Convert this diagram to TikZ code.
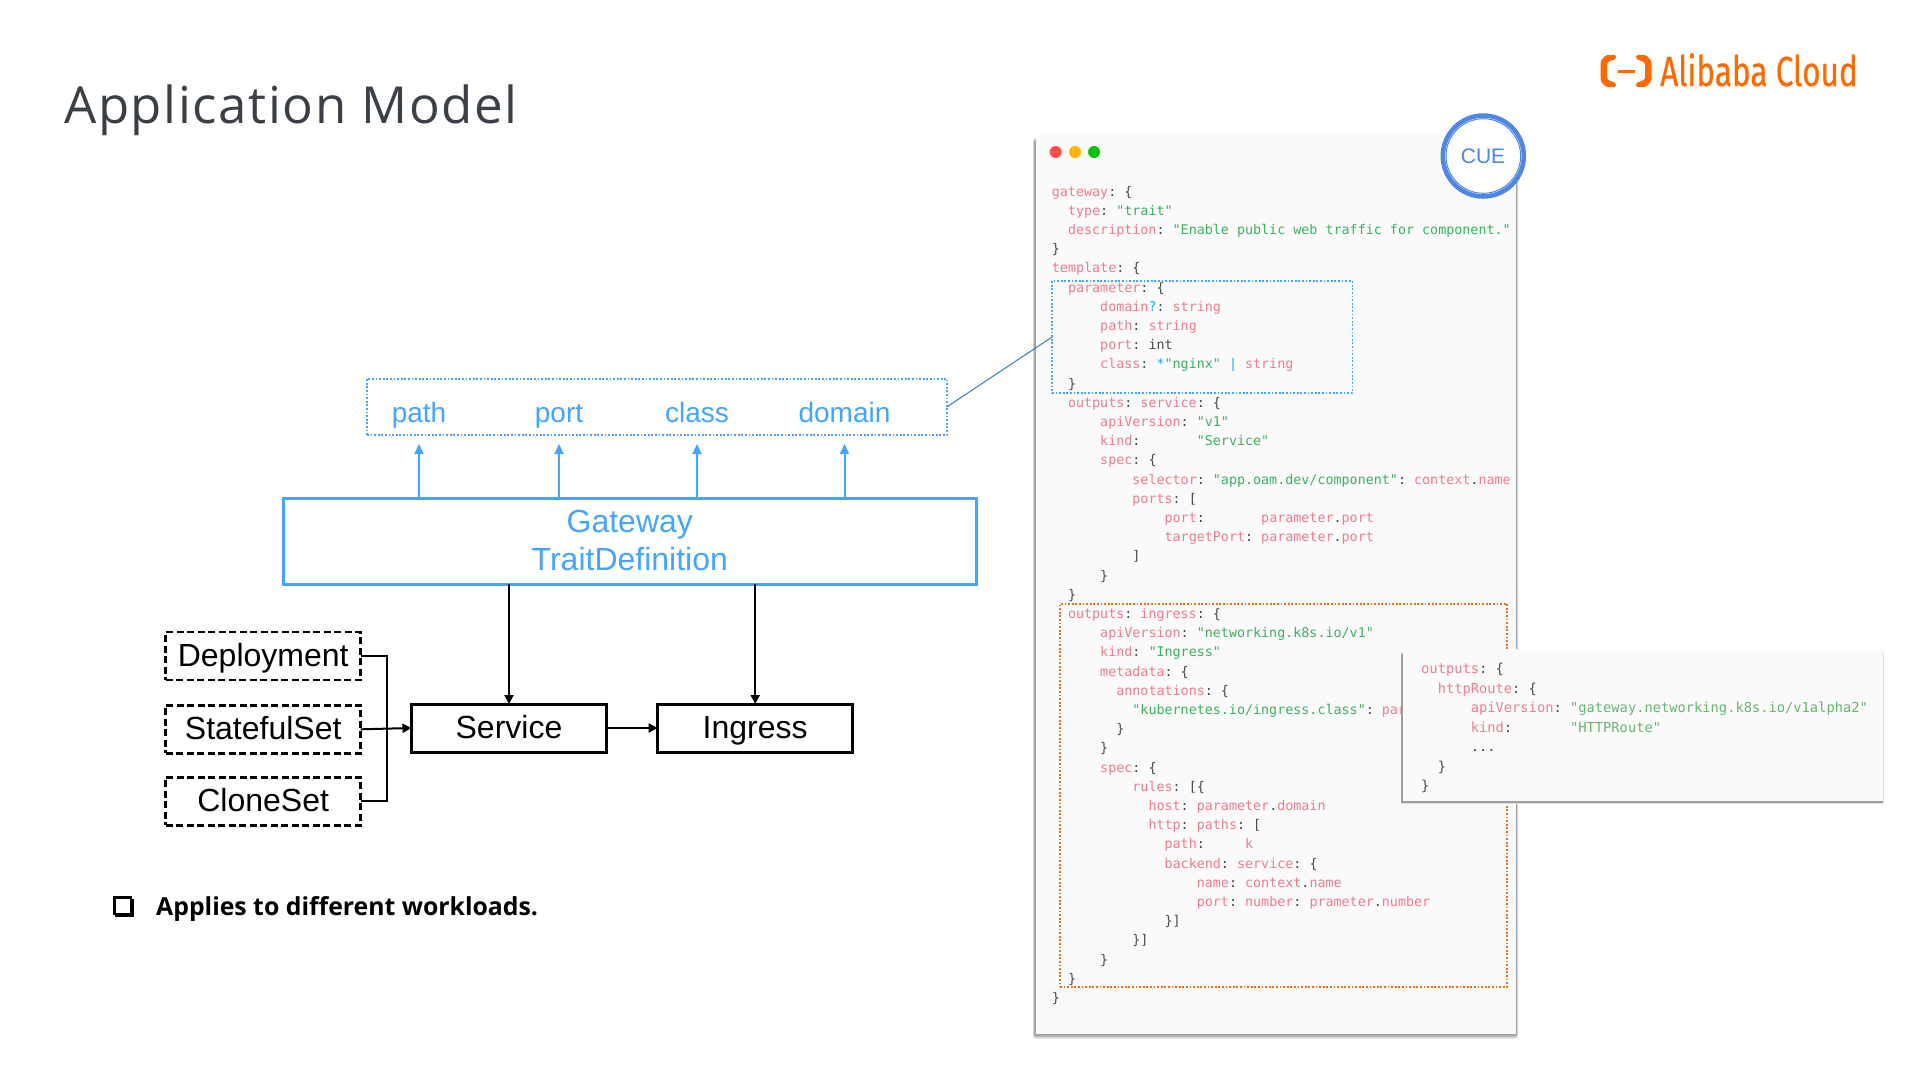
\documentclass[tikz,border=0pt]{standalone}
\usepackage{fontspec}
\usetikzlibrary{arrows.meta}
\setmainfont{Liberation Sans}
\newfontfamily\titlefont[LetterSpace=3.2]{Open Sans}
\newfontfamily\bulletfont{Open Sans}
\newfontfamily\codefont{DejaVu Sans Mono}
\newfontfamily\logofont[FakeStretch=0.75,FakeBold=0.4]{Fira Sans}
\definecolor{tblue}{HTML}{45A5FA}
\definecolor{kwc}{HTML}{EE7C8C}
\definecolor{stc}{HTML}{3DB05F}
\definecolor{plc}{HTML}{444A50}
\definecolor{opc}{HTML}{2BA6DC}
\definecolor{kwp}{HTML}{E9808E}
\definecolor{stp}{HTML}{68B470}
\definecolor{cuec}{HTML}{4F86E2}
\definecolor{orc}{HTML}{E8711A}
\definecolor{logoc}{HTML}{FF6A00}
\definecolor{panelc}{HTML}{FAFAFA}
\definecolor{dotr}{HTML}{FF4B4B}
\definecolor{doty}{HTML}{FFB400}
\definecolor{dotg}{HTML}{0AC20A}
\definecolor{linkc}{HTML}{2F7FC8}
\definecolor{titlec}{HTML}{3A4046}
\newcommand{\kw}[1]{\textcolor{kwc}{#1}}
\newcommand{\st}[1]{\textcolor{stc}{#1}}
\newcommand{\op}[1]{\textcolor{opc}{#1}}
\newcommand{\codeln}[3]{\node[codeline] (ln#1) at ({1051.7+#2*8.05},{196+#1*19.2}) {#3};}
\newcommand{\popln}[3]{\node[popline] (pl#1) at ({1421+#2*8.27},{673.5+#1*19.5}) {#3};}
\frenchspacing
\tikzset{
  wbox/.style={draw=black,line width=3pt,inner sep=0pt,outer sep=0pt,font=\fontsize{32}{38}\selectfont,text=black,text height=25pt,text depth=4pt,minimum width=195pt,minimum height=48pt},
  wdash/.style={wbox,line width=2.8pt,dash pattern=on 7pt off 3.5pt},
  lbl/.style={anchor=base,inner sep=0pt,font=\fontsize{28}{34}\selectfont,text=tblue},
  conn/.style={line width=2pt,draw=black},
  bluearrow/.style={line width=2pt,draw=tblue,-{Triangle[length=10pt,width=9pt]}},
  blackarrow/.style={conn,-{Triangle[length=9pt,width=9pt]}},
  dotbox/.style={inner sep=0pt,outer sep=0pt,line width=1.7pt,dash pattern=on 1.8pt off 1.8pt},
  codeline/.style={anchor=base west,inner sep=0pt,font=\codefont\fontsize{13.37}{16}\selectfont,text=plc},
  popline/.style={anchor=base west,inner sep=0pt,font=\codefont\fontsize{13.74}{16}\selectfont,text=plc},
  wdot/.style={circle,inner sep=0pt,minimum size=12pt},
}
\begin{document}
\begin{tikzpicture}[x=1pt,y=-1pt]
\useasboundingbox (0,0) rectangle (1920,1080);
\fill[white] (0,0) rectangle (1920,1080);
% title and logo
\node[anchor=base west,inner sep=0pt,text=titlec,font=\titlefont\fontsize{51}{60}\selectfont] (title) at (64,123) {Application Model};
\fill[logoc,rounded corners=1.5pt] (1616,55) -- (1606,55) -- (1600.5,61) -- (1600.5,81) -- (1606,87) -- (1616,87) -- (1616,83) -- (1609,80.5) -- (1607,79) -- (1607,63) -- (1609,61.5) -- (1616,59) -- cycle;
\fill[logoc,rounded corners=1.5pt] (1636,55) -- (1646,55) -- (1651.5,61) -- (1651.5,81) -- (1646,87) -- (1636,87) -- (1636,83) -- (1643,80.5) -- (1645,79) -- (1645,63) -- (1643,61.5) -- (1636,59) -- cycle;
\fill[logoc] (1617.7,70) rectangle (1635,73);
\node[anchor=base west,inner sep=0pt,text=logoc,font=\logofont\fontsize{42}{48}\selectfont] (logo) at (1660,86) {Alibaba Cloud};
% parameter strip
\node[dotbox,draw=tblue,minimum width=580pt,minimum height=56.3pt] (pbox) at (657,406.8) {};
\node[lbl] (lpath) at (419,422) {path};
\node[lbl] (lport) at (559,422) {port};
\node[lbl] (lclass) at (697,422) {class};
\node[lbl] (ldomain) at (844.5,422) {domain};
\node[draw=tblue,line width=3pt,inner sep=0pt,outer sep=0pt,minimum width=693.6pt,minimum height=86pt,align=center,text=tblue,font=\fontsize{32}{38}\selectfont] (gw) at (629.8,541.3) {Gateway\\TraitDefinition\rule[-1pt]{0pt}{1pt}};
\coordinate (ta) at (419,444);
\coordinate (tb) at (559,444);
\coordinate (tc) at (697,444);
\coordinate (td) at (844.5,444);
\draw[bluearrow] (gw.north -| ta) -- (ta);
\draw[bluearrow] (gw.north -| tb) -- (tb);
\draw[bluearrow] (gw.north -| tc) -- (tc);
\draw[bluearrow] (gw.north -| td) -- (td);
% workloads
\node[wdash] (dep) at (263.2,656) {Deployment};
\node[wdash] (sts) at (263.2,729.3) {StatefulSet};
\node[wdash] (cln) at (263.2,801.3) {CloneSet};
\node[wbox] (svc) at (509,728) {Service};
\node[wbox] (ing) at (755.2,728) {Ingress};
\coordinate (j) at (386.8,729);
\draw[conn] (dep.east) -| (j);
\draw[conn] (cln.east) -| (j);
\draw[blackarrow] (sts.east) -- (svc.west);
\draw[blackarrow] (svc.east) -- (ing.west);
\draw[blackarrow] (gw.south -| svc.north) -- (svc.north);
\draw[blackarrow] (gw.south -| ing.north) -- (ing.north);
% bullet
\draw[black,line width=2.5pt] (114.5,897.5) rectangle (131,914);
\draw[black,line width=2pt] (115,915.5) -- (132.8,915.5) -- (132.8,899);
\node[anchor=base west,inner sep=0pt,text=black,font=\bulletfont\bfseries\fontsize{24.8}{28}\selectfont] (bul) at (156,915) {Applies to different workloads.};
% code panel
\fill[black!15,rounded corners=3pt] (1033,138) rectangle (1518,1038.5);
\fill[black!35,rounded corners=2pt] (1034,140) rectangle (1517,1036.5);
\fill[panelc] (1035.5,135) rectangle (1515.5,1034);
\node[wdot,fill=dotr] (dr) at (1055.7,152) {};
\node[wdot,fill=doty] (dy) at (1075,152) {};
\node[wdot,fill=dotg] (dg) at (1094,152) {};
\codeln{0}{0}{\kw{gateway}: \{}
\codeln{1}{2}{\kw{type}: \st{"trait"}}
\codeln{2}{2}{\kw{description}: \st{"Enable public web traffic for component."}}
\codeln{3}{0}{\}}
\codeln{4}{0}{\kw{template}: \{}
\codeln{5}{2}{\kw{parameter}: \{}
\codeln{6}{6}{\kw{domain}\op{?}: \kw{string}}
\codeln{7}{6}{\kw{path}: \kw{string}}
\codeln{8}{6}{\kw{port}: int}
\codeln{9}{6}{\kw{class}: \op{*}\st{"nginx"} \op{|} \kw{string}}
\codeln{10}{2}{\}}
\codeln{11}{2}{\kw{outputs}: \kw{service}: \{}
\codeln{12}{6}{\kw{apiVersion}: \st{"v1"}}
\codeln{13}{6}{\kw{kind}:~~~~~~~\st{"Service"}}
\codeln{14}{6}{\kw{spec}: \{}
\codeln{15}{10}{\kw{selector}: \st{"app.oam.dev/component"}: \kw{context}.\kw{name}}
\codeln{16}{10}{\kw{ports}: [}
\codeln{17}{14}{\kw{port}:~~~~~~~\kw{parameter}.\kw{port}}
\codeln{18}{14}{\kw{targetPort}: \kw{parameter}.\kw{port}}
\codeln{19}{10}{]}
\codeln{20}{6}{\}}
\codeln{21}{2}{\}}
\codeln{22}{2}{\kw{outputs}: \kw{ingress}: \{}
\codeln{23}{6}{\kw{apiVersion}: \st{"networking.k8s.io/v1"}}
\codeln{24}{6}{\kw{kind}: \st{"Ingress"}}
\codeln{25}{6}{\kw{metadata}: \{}
\codeln{26}{8}{\kw{annotations}: \{}
\codeln{27}{10}{\st{"kubernetes.io/ingress.class"}: \kw{par}}
\codeln{28}{8}{\}}
\codeln{29}{6}{\}}
\codeln{30}{6}{\kw{spec}: \{}
\codeln{31}{10}{\kw{rules}: [\{}
\codeln{32}{12}{\kw{host}: \kw{parameter}.\kw{domain}}
\codeln{33}{12}{\kw{http}: \kw{paths}: [}
\codeln{34}{14}{\kw{path}:~~~~~\kw{k}}
\codeln{35}{14}{\kw{backend}: \kw{service}: \{}
\codeln{36}{18}{\kw{name}: \kw{context}.\kw{name}}
\codeln{37}{18}{\kw{port}: \kw{number}: \kw{prameter}.\kw{number}}
\codeln{38}{14}{\}]}
\codeln{39}{10}{\}]}
\codeln{40}{6}{\}}
\codeln{41}{2}{\}}
\codeln{42}{0}{\}}
\node[dotbox,draw=tblue,minimum width=300.3pt,minimum height=112pt] (cbox) at (1202.2,337) {};
\node[dotbox,draw=orc,minimum width=447.3pt,minimum height=382.7pt] (obox) at (1283.6,795.3) {};
\draw[line width=1pt,draw=linkc] (pbox.east) -- (cbox.west);
% popup
\fill[black!12] (1400.5,652) rectangle (1883.5,803.5);
\fill[black!38] (1401,654) rectangle (1882.5,802.5);
\fill[panelc] (1402.5,649) rectangle (1882.5,800.7);
\begin{scope}
\colorlet{kwc}{kwp}\colorlet{stc}{stp}
\popln{0}{0}{\kw{outputs}: \{}
\popln{1}{2}{\kw{httpRoute}: \{}
\popln{2}{6}{\kw{apiVersion}: \st{"gateway.networking.k8s.io/v1alpha2"}}
\popln{3}{6}{\kw{kind}:~~~~~~~\st{"HTTPRoute"}}
\popln{4}{6}{...}
\popln{5}{2}{\}}
\popln{6}{0}{\}}
\end{scope}
% CUE badge
\node[circle,fill=white,draw=cuec,line width=4.5pt,minimum size=81pt,inner sep=0pt] (cue) at (1483.3,156) {};
\draw[cuec,line width=1pt] (cue.center) circle (37.3pt);
\node[anchor=base,inner sep=0pt,text=cuec,font=\fontsize{21}{25}\selectfont] (cuet) at (1483,163) {CUE};
\end{tikzpicture}
\end{document}
